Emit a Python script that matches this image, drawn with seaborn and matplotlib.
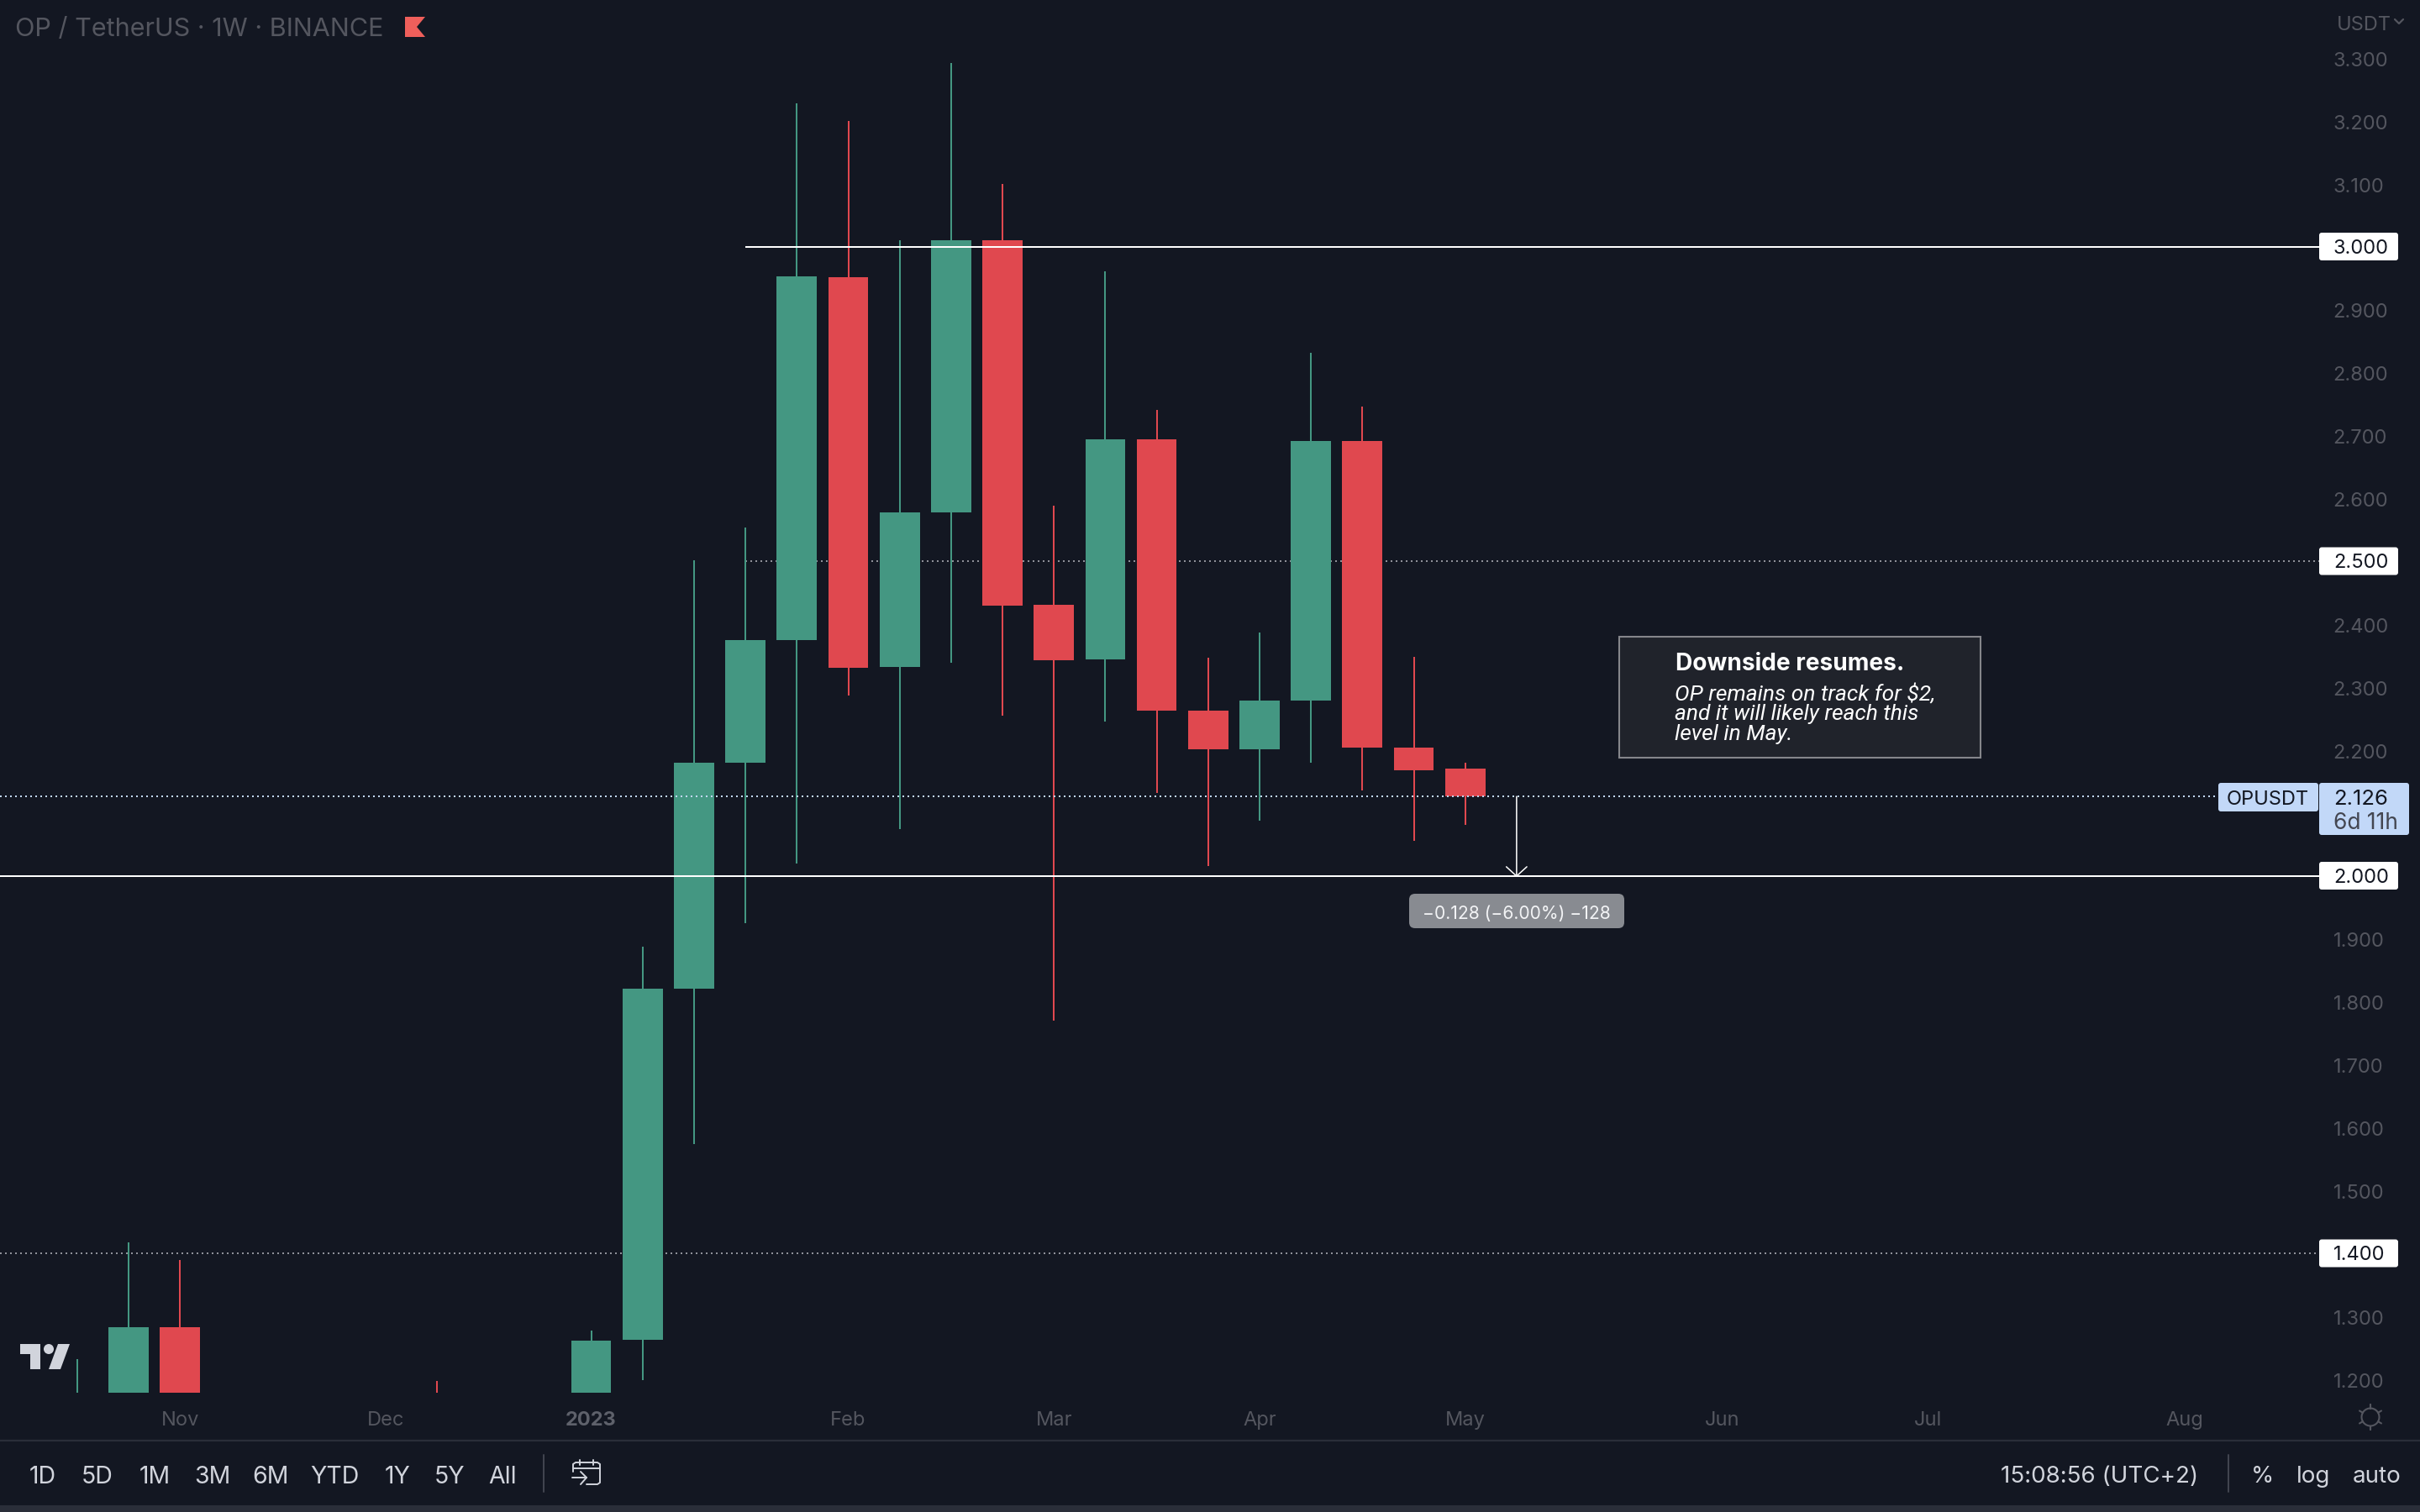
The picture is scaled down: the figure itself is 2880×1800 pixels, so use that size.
import numpy as np
import pandas as pd
import matplotlib
matplotlib.use("Agg")
import matplotlib.pyplot as plt
from matplotlib.patches import Rectangle, FancyBboxPatch, Polygon, Circle
from matplotlib.transforms import ScaledTranslation
import seaborn as sns

# ---------- data ----------
week_index = [-1, 0, 1, 6, 9, 10, 11, 12, 13, 14, 15, 16, 17, 18, 19, 20, 21, 22, 23, 24, 25, 26]
open_price = [1.12, 1.10, 1.282, 1.16, 1.10, 1.262, 1.821, 2.179, 2.375, 2.951, 2.332, 2.577, 3.010, 2.431, 2.344, 2.694, 2.262, 2.201, 2.279, 2.691, 2.203, 2.170]
close_price = [1.15, 1.282, 1.10, 1.13, 1.261, 1.821, 2.179, 2.375, 2.953, 2.330, 2.577, 3.010, 2.429, 2.342, 2.694, 2.262, 2.201, 2.279, 2.691, 2.203, 2.167, 2.126]
high_price = [1.232, 1.417, 1.389, 1.197, 1.277, 1.887, 2.502, 2.554, 3.228, 3.200, 3.010, 3.292, 3.100, 2.588, 2.961, 2.740, 2.346, 2.387, 2.831, 2.745, 2.348, 2.180]
low_price = [1.08, 1.05, 1.05, 1.10, 1.05, 1.198, 1.574, 1.924, 2.020, 2.287, 2.074, 2.338, 2.255, 1.770, 2.245, 2.132, 2.015, 2.088, 2.179, 2.135, 2.056, 2.081]

month_positions = [1, 5, 9, 14, 18, 22, 26, 31, 35, 40]
month_labels = ["Nov", "Dec", "2023", "Feb", "Mar", "Apr", "May", "Jun", "Jul", "Aug"]
price_ticks = [1.2, 1.3, 1.5, 1.6, 1.7, 1.8, 1.9, 2.2, 2.3, 2.4,
               2.6, 2.7, 2.8, 2.9, 3.1, 3.2, 3.3]
solid_levels = {"3.000": (3.0, 12), "2.000": (2.0, -2.5)}
dotted_levels = {"2.500": (2.5, 12), "1.400": (1.4, -2.5)}
last_price = 2.126
target_price = 1.998
range_buttons = [("1D", 51), ("5D", 116), ("1M", 184), ("3M", 253), ("6M", 322),
                 ("YTD", 398), ("1Y", 473), ("5Y", 535), ("All", 598)]

# ---------- style ----------
BG = "#131722"
GREEN = "#449782"
RED = "#E0484F"
MUTED = "#54565F"
BAR_TEXT = "#D1D4DC"
SEP = "#2A2E39"
sns.set_theme(style="dark", rc={"axes.facecolor": BG, "figure.facecolor": BG,
                                "axes.grid": False})
plt.rcParams["font.family"] = ["Inter", "DejaVu Sans"]

W, H = 2880, 1800
fig = plt.figure(figsize=(28.8, 18), dpi=100, facecolor=BG)
ax = fig.add_axes([0, 142 / H, 2760 / W, 1658 / H])
ax.set_facecolor(BG)

df = pd.DataFrame({"idx": week_index, "open": open_price, "close": close_price,
                   "high": high_price, "low": low_price})
df["up"] = df["close"] >= df["open"]
df["bottom"] = df[["open", "close"]].min(axis=1)
df["height"] = (df["close"] - df["open"]).abs()

wicks = pd.concat([df[["idx", "up", "high"]].rename(columns={"high": "price"}),
                   df[["idx", "up", "low"]].rename(columns={"low": "price"})])
sns.lineplot(data=wicks, x="idx", y="price", units="idx", estimator=None, hue="up",
             palette={True: GREEN, False: RED}, legend=False, linewidth=1.45,
             solid_capstyle="butt", sort=False, ax=ax, zorder=2)
for is_up, colour in [(True, GREEN), (False, RED)]:
    part = df[df["up"] == is_up]
    sns.barplot(data=part, x="idx", y="height", bottom=part["bottom"].values,
                native_scale=True, color=colour, saturation=1, width=0.78,
                errorbar=None, linewidth=0, ax=ax, zorder=3)

ax.set_xlim(-153 / 61.18, (2760 - 153) / 61.18)
ax.set_ylim(3 - (1658 - 293.5) / 749, 3 + 293.5 / 749)
ax.set_xlabel("")
ax.set_ylabel("")
for s in ax.spines.values():
    s.set_visible(False)
ax.yaxis.tick_right()
ax.set_yticks(price_ticks)
ax.set_yticklabels([f"{p:.3f}" for p in price_ticks])
ax.tick_params(axis="y", length=0, pad=12, labelsize=17, labelcolor=MUTED, right=False, labelright=True)
nudge = ScaledTranslation(0, -1.5 / 100, fig.dpi_scale_trans)
for lab in ax.get_yticklabels():
    lab.set_verticalalignment("center_baseline")
    lab.set_transform(lab.get_transform() + nudge)
ax.set_xticks(month_positions)
ax.set_xticklabels(month_labels)
ax.tick_params(axis="x", length=0, pad=16, labelsize=17, labelcolor=MUTED, bottom=False)
for lab in ax.get_xticklabels():
    if lab.get_text() == "2023":
        lab.set_fontweight("bold")
        lab.set_color("#5E616B")

for name, (lvl, start) in solid_levels.items():
    ax.plot([start, ax.get_xlim()[1]], [lvl, lvl], color="white", lw=1.45, zorder=5, solid_capstyle="butt")
for name, (lvl, start) in dotted_levels.items():
    ax.plot([start, ax.get_xlim()[1]], [lvl, lvl], color="#8F9199", lw=1.44, ls=(0, (1, 2)), zorder=1)
ax.plot([-2.5, (2640 - 153) / 61.18], [last_price, last_price], color="#C2D8F8", lw=1.44,
        ls=(0, (1, 2)), zorder=5)
ax.annotate("", xy=(27, target_price), xytext=(27, last_price), zorder=6,
            arrowprops=dict(arrowstyle="->,head_length=0.5,head_width=0.55", color="white", lw=1.1,
                            shrinkA=0, shrinkB=0, mutation_scale=16))

# ---------- chrome overlay in pixel coordinates ----------
ov = fig.add_axes([0, 0, 1, 1], zorder=10)
ov.set_xlim(0, W)
ov.set_ylim(H, 0)
ov.axis("off")
ov.patch.set_alpha(0)

def T(x, y, s, size=17, color=MUTED, ha="center", va="center_baseline", **kw):
    return ov.text(x, y, s, fontsize=size, color=color, ha=ha, va=va, **kw)

T(18, 43, "OP / TetherUS · 1W · BINANCE", size=22, ha="left", va="baseline")
ov.add_patch(Polygon([(482, 20), (506, 20), (496, 32), (506, 44), (482, 44)], closed=True,
                     fc="#EF5F5B", ec="none"))
T(2781, 27, "USDT", size=17, ha="left")
ov.plot([2850, 2855, 2860], [23, 28, 23], color=MUTED, lw=1.6)

# tags
def tag(x0, y0, x1, y1, colour):
    ov.add_patch(FancyBboxPatch((x0, y0), x1 - x0, y1 - y0, boxstyle="round,pad=0,rounding_size=3",
                                fc=colour, ec="none", zorder=4, mutation_aspect=1))

for name, ymid in [("3.000", 293.5), ("2.500", 668), ("2.000", 1042.5), ("1.400", 1492)]:
    tag(2760, ymid - 16.5, 2854, ymid + 16.5, "white")
    T(2777, ymid, name, color="#131722", ha="left", zorder=5)
tag(2640, 932, 2759, 966, "#C2D8F8")
T(2699, 949, "OPUSDT", size=17, color="#131722", zorder=5)
tag(2760, 932, 2867, 994, "#C2D8F8")
T(2777, 949, "2.126", size=18.5, color="#131722", ha="left", zorder=5)
T(2777, 977, "6d 11h", size=19, color="#434651", ha="left", zorder=5)

# note box
ov.add_patch(Rectangle((1927, 758), 430, 144, fc="#20232B", ec="#85868B", lw=1.5, zorder=3))
T(1994, 787, "Downside resumes.", size=20.2, color="white", ha="left", fontweight="bold", zorder=5)
for y, line in [(824, "OP remains on track for $2,"), (848, "and it will likely reach this"),
                (872, "level in May.")]:
    T(1993, y, line, size=19, color="white", ha="left", style="italic",
      family=["Roboto", "DejaVu Sans"], zorder=5)

# measure label
ov.add_patch(FancyBboxPatch((1677, 1064), 256, 41, boxstyle="round,pad=0,rounding_size=7",
                            fc="#888B91", ec="none", zorder=4))
T(1805, 1086, "−0.128 (−6.00%) −128", size=15.2, color="#F2F3F5", zorder=5)

# logo
logo = "#D1D4DC"
ov.add_patch(Polygon([(24, 1600), (48, 1600), (48, 1630), (36, 1630), (36, 1612), (24, 1612)],
                     closed=True, fc=logo, ec="none"))
ov.add_patch(Circle((58, 1606), 6, fc=logo, ec="none"))
ov.add_patch(Polygon([(69, 1600), (83, 1600), (72, 1630), (58, 1630)], closed=True, fc=logo, ec="none"))

# bottom bar
ov.plot([0, W], [1715, 1715], color=SEP, lw=1.6)
ov.add_patch(Rectangle((0, 1792), W, 8, fc=SEP, ec="none"))
for s, x in range_buttons:
    T(x, 1755, s, size=20.5, color=BAR_TEXT)
ov.plot([647, 647], [1732, 1776], color="#434651", lw=1.4)
ov.plot([2652, 2652], [1732, 1776], color="#434651", lw=1.4)
# calendar icon
cal = dict(color=BAR_TEXT, lw=1.4)
ov.plot([682, 682, 685, 711, 714, 714, 711, 698], [1752, 1743, 1741, 1741, 1743, 1765, 1767, 1767], **cal)
ov.plot([682, 714], [1748, 1748], **cal)
ov.plot([690, 690], [1738, 1744], **cal)
ov.plot([706, 706], [1738, 1744], **cal)
ov.plot([681, 698], [1759, 1759], **cal)
ov.plot([691, 698, 691], [1752, 1759, 1767], **cal)

T(2381, 1755, "15:08:56 (UTC+2)", size=20, color=BAR_TEXT, ha="left")
T(2692, 1755, "%", size=20, color=BAR_TEXT)
T(2753, 1755, "log", size=20, color=BAR_TEXT)
T(2829, 1755, "auto", size=20, color=BAR_TEXT)

# sun icon
sx, sy = 2821, 1687
ov.add_patch(Circle((sx, sy), 10.5, fc="none", ec=MUTED, lw=1.5))
for a in np.arange(0, 360, 60) + 30:
    ca, sa = np.cos(np.radians(a)), np.sin(np.radians(a))
    ov.plot([sx + 10.5 * ca, sx + 15 * ca], [sy + 10.5 * sa, sy + 15 * sa], color=MUTED, lw=1.5)
for sa in (1, -1):
    ov.plot([sx, sx], [sy + 10.5 * sa, sy + 15 * sa], color=MUTED, lw=1.5)
ov.set_xlim(0, W)
ov.set_ylim(H, 0)

fig.savefig("out.png", dpi=100, facecolor=BG)
